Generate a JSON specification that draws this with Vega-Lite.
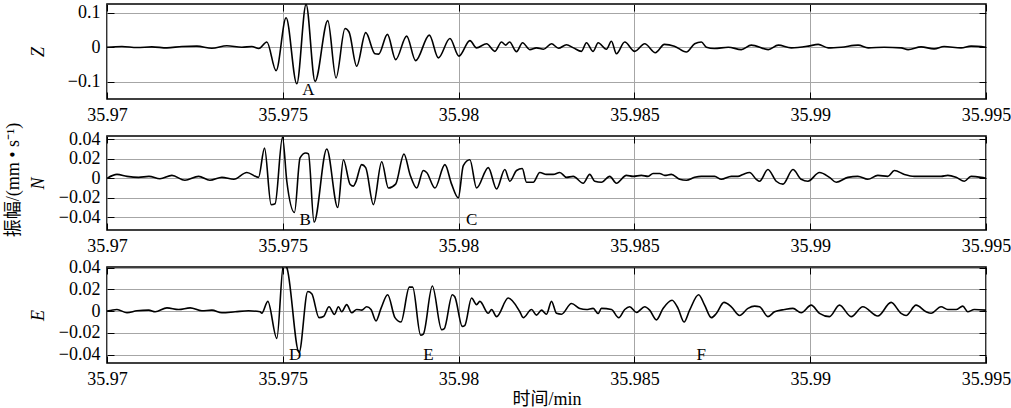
{
"$schema": "https://vega.github.io/schema/vega-lite/v6.json",
"padding": {"left": 3, "top": 2, "right": 2, "bottom": 0},
"config": {
 "view": {"stroke": "#000", "strokeWidth": 1.6},
 "font": "Liberation Serif, Times New Roman, serif",
 "axis": {"labelFont": "Liberation Serif, Times New Roman, serif", "labelFontSize": 18, "labelColor": "#000", "titleFont": "Liberation Serif, Noto Sans CJK SC, serif", "titleFontSize": 18, "titleFontWeight": "normal", "titleColor": "#000", "gridColor": "#a6a6a6", "gridWidth": 1, "gridOpacity": 1, "domain": false, "tickColor": "#000", "tickSize": -7, "tickWidth": 1, "labelFlush": false}
},
"datasets": {
"Z": [
{"t":35.97,"v":0},{"t":35.970426,"v":0.002},{"t":35.970852,"v":-0.001},{"t":35.971278,"v":0.001},{"t":35.971705,"v":-0.002},{"t":35.972131,"v":0.002},{"t":35.972557,"v":0.003},{"t":35.972983,"v":-0.003},{"t":35.973409,"v":0.004},{"t":35.973835,"v":0.0},{"t":35.974119,"v":0.002},{"t":35.974318,"v":-0.004},{"t":35.974546,"v":0.015},{"t":35.97481,"v":-0.068},{"t":35.975094,"v":0.085},{"t":35.975398,"v":-0.106},{"t":35.975662,"v":0.124},{"t":35.975918,"v":-0.099},{"t":35.976279,"v":0.077},{"t":35.976514,"v":-0.089},{"t":35.97677,"v":0.054},{"t":35.976884,"v":0.044},{"t":35.977102,"v":-0.055},{"t":35.977358,"v":0.042},{"t":35.977622,"v":-0.019},{"t":35.977727,"v":-0.02},{"t":35.977975,"v":0.037},{"t":35.97821,"v":-0.036},{"t":35.978523,"v":0.032},{"t":35.978778,"v":-0.039},{"t":35.979168,"v":0.035},{"t":35.979424,"v":-0.031},{"t":35.979753,"v":0.025},{"t":35.980009,"v":-0.026},{"t":35.980321,"v":0.019},{"t":35.980511,"v":-0.002},{"t":35.980795,"v":0.01},{"t":35.981032,"v":-0.012},{"t":35.981222,"v":0.015},{"t":35.981336,"v":0.006},{"t":35.981449,"v":0.015},{"t":35.981648,"v":-0.013},{"t":35.981819,"v":0.013},{"t":35.982026,"v":-0.007},{"t":35.982216,"v":-0.002},{"t":35.982415,"v":-0.006},{"t":35.982642,"v":0.01},{"t":35.982841,"v":-0.003},{"t":35.983068,"v":0.007},{"t":35.983267,"v":-0.002},{"t":35.983494,"v":-0.012},{"t":35.983636,"v":0.013},{"t":35.983827,"v":-0.012},{"t":35.983969,"v":0.013},{"t":35.984205,"v":-0.006},{"t":35.984347,"v":0.017},{"t":35.984489,"v":-0.019},{"t":35.984725,"v":0.015},{"t":35.985009,"v":-0.012},{"t":35.985293,"v":0.01},{"t":35.985597,"v":-0.016},{"t":35.985853,"v":0.008},{"t":35.986137,"v":0.003},{"t":35.986478,"v":-0.014},{"t":35.986714,"v":0.01},{"t":35.986904,"v":0.015},{"t":35.987046,"v":0.0},{"t":35.987273,"v":-0.004},{"t":35.987671,"v":0.0},{"t":35.98804,"v":-0.007},{"t":35.988324,"v":0.006},{"t":35.988807,"v":-0.007},{"t":35.989092,"v":0.006},{"t":35.989461,"v":-0.002},{"t":35.989944,"v":0.003},{"t":35.990228,"v":0.008},{"t":35.990512,"v":-0.002},{"t":35.990881,"v":0.0},{"t":35.991364,"v":0.006},{"t":35.991648,"v":-0.002},{"t":35.992103,"v":0.0},{"t":35.992586,"v":-0.002},{"t":35.992785,"v":-0.007},{"t":35.993154,"v":0.001},{"t":35.993523,"v":-0.005},{"t":35.993808,"v":0.002},{"t":35.99429,"v":-0.002},{"t":35.994575,"v":0.003},{"t":35.995,"v":0.0}
],
"N": [
{"t":35.97,"v":0},{"t":35.970284,"v":0.004},{"t":35.970568,"v":0.002},{"t":35.970901,"v":0.001},{"t":35.971193,"v":0.002},{"t":35.971506,"v":-0.0005},{"t":35.971847,"v":0.003},{"t":35.972216,"v":-0.002},{"t":35.972605,"v":0.002},{"t":35.972926,"v":-0.002},{"t":35.973267,"v":0.001},{"t":35.973608,"v":-0.001},{"t":35.973977,"v":0.006},{"t":35.97431,"v":0.001},{"t":35.97448,"v":0.031},{"t":35.974668,"v":-0.027},{"t":35.974781,"v":-0.026},{"t":35.974991,"v":0.042},{"t":35.975114,"v":-0.003},{"t":35.975332,"v":-0.035},{"t":35.975491,"v":0.021},{"t":35.975653,"v":0.026},{"t":35.97573,"v":0.025},{"t":35.975889,"v":-0.045},{"t":35.97625,"v":0.03},{"t":35.976563,"v":-0.03},{"t":35.976724,"v":0.019},{"t":35.976912,"v":-0.006},{"t":35.977009,"v":-0.008},{"t":35.977074,"v":-0.004},{"t":35.977244,"v":0.014},{"t":35.977358,"v":0.011},{"t":35.977577,"v":-0.027},{"t":35.977813,"v":0.017},{"t":35.978003,"v":-0.01},{"t":35.97821,"v":-0.006},{"t":35.978446,"v":0.025},{"t":35.978617,"v":0.004},{"t":35.978807,"v":-0.01},{"t":35.978997,"v":0.008},{"t":35.979091,"v":0.006},{"t":35.979327,"v":-0.01},{"t":35.979611,"v":0.014},{"t":35.979801,"v":-0.006},{"t":35.979991,"v":-0.02},{"t":35.980134,"v":0.013},{"t":35.980321,"v":0.019},{"t":35.980511,"v":-0.01},{"t":35.980844,"v":0.011},{"t":35.98108,"v":-0.011},{"t":35.981315,"v":0.009},{"t":35.981457,"v":-0.003},{"t":35.981648,"v":0.008},{"t":35.98181,"v":0.01},{"t":35.981932,"v":-0.004},{"t":35.982122,"v":-0.004},{"t":35.98231,"v":0.006},{"t":35.9825,"v":0.004},{"t":35.98269,"v":0.004},{"t":35.982878,"v":0.006},{"t":35.983068,"v":0.001},{"t":35.983259,"v":0.002},{"t":35.983543,"v":-0.005},{"t":35.98373,"v":0.004},{"t":35.983872,"v":-0.003},{"t":35.984063,"v":-0.004},{"t":35.984298,"v":0.002},{"t":35.984489,"v":-0.005},{"t":35.984773,"v":0.003},{"t":35.984963,"v":0.002},{"t":35.985199,"v":0.003},{"t":35.985389,"v":0.002},{"t":35.985531,"v":0.005},{"t":35.985719,"v":0.005},{"t":35.985861,"v":0.003},{"t":35.986051,"v":0.004},{"t":35.986287,"v":-0.001},{"t":35.986477,"v":-0.002},{"t":35.986713,"v":0.001},{"t":35.986903,"v":0.002},{"t":35.987094,"v":0.002},{"t":35.987281,"v":0.002},{"t":35.987472,"v":-0.001},{"t":35.987756,"v":0.002},{"t":35.987946,"v":0.002},{"t":35.988088,"v":0.004},{"t":35.988276,"v":0.006},{"t":35.988466,"v":-0.001},{"t":35.98856,"v":-0.003},{"t":35.988798,"v":0.009},{"t":35.989034,"v":-0.003},{"t":35.989224,"v":-0.006},{"t":35.989509,"v":0.009},{"t":35.989744,"v":-0.001},{"t":35.989935,"v":-0.003},{"t":35.990264,"v":0.006},{"t":35.990548,"v":0.001},{"t":35.990739,"v":-0.004},{"t":35.991071,"v":0.001},{"t":35.991355,"v":0.002},{"t":35.991639,"v":-0.001},{"t":35.991923,"v":0.003},{"t":35.992207,"v":0.002},{"t":35.992395,"v":0.008},{"t":35.992679,"v":0.004},{"t":35.992963,"v":0.002},{"t":35.993344,"v":0.002},{"t":35.993722,"v":0.002},{"t":35.993913,"v":0.003},{"t":35.994148,"v":0.001},{"t":35.994384,"v":-0.003},{"t":35.994574,"v":0.002},{"t":35.994858,"v":0.001},{"t":35.995,"v":0.0}
],
"E": [
{"t":35.97,"v":0},{"t":35.970284,"v":0.0015},{"t":35.970568,"v":-0.0015},{"t":35.970852,"v":0.0003},{"t":35.971185,"v":0.0009},{"t":35.971372,"v":-0.0006},{"t":35.971705,"v":0.003},{"t":35.972037,"v":0.0015},{"t":35.972366,"v":0.003},{"t":35.972699,"v":0.0003},{"t":35.972983,"v":0.0009},{"t":35.973267,"v":-0.0015},{"t":35.973645,"v":-0.0006},{"t":35.974026,"v":0.0003},{"t":35.974355,"v":-0.0006},{"t":35.974403,"v":-0.002},{"t":35.974574,"v":0.009},{"t":35.97483,"v":-0.025},{"t":35.97502,"v":0.043},{"t":35.975114,"v":0.04},{"t":35.975463,"v":-0.038},{"t":35.97571,"v":0.018},{"t":35.975824,"v":0.016},{"t":35.976031,"v":-0.006},{"t":35.976156,"v":-0.005},{"t":35.976315,"v":0.004},{"t":35.976469,"v":-0.003},{"t":35.976582,"v":0.004},{"t":35.976676,"v":-0.0006},{"t":35.976818,"v":0.006},{"t":35.97696,"v":-0.0015},{"t":35.977102,"v":0.0015},{"t":35.977244,"v":0.0009},{"t":35.977386,"v":0.004},{"t":35.977509,"v":0.0015},{"t":35.977651,"v":-0.009},{"t":35.977793,"v":0.0025},{"t":35.977983,"v":0.015},{"t":35.97819,"v":-0.006},{"t":35.978361,"v":-0.01},{"t":35.978599,"v":0.022},{"t":35.978693,"v":0.022},{"t":35.97892,"v":-0.022},{"t":35.978997,"v":-0.021},{"t":35.979253,"v":0.023},{"t":35.979517,"v":-0.017},{"t":35.979594,"v":-0.016},{"t":35.979821,"v":0.015},{"t":35.979895,"v":0.013},{"t":35.980105,"v":-0.014},{"t":35.980179,"v":-0.013},{"t":35.980369,"v":0.012},{"t":35.980511,"v":0.006},{"t":35.980605,"v":0.009},{"t":35.980844,"v":-0.002},{"t":35.980938,"v":0.0015},{"t":35.98108,"v":-0.005},{"t":35.981412,"v":0.012},{"t":35.981742,"v":-0.0006},{"t":35.981838,"v":-0.006},{"t":35.982074,"v":0.0015},{"t":35.982216,"v":-0.0037},{"t":35.982358,"v":0.0009},{"t":35.9825,"v":-0.0028},{"t":35.982642,"v":0.009},{"t":35.982784,"v":-0.002},{"t":35.982926,"v":-0.0028},{"t":35.98321,"v":0.007},{"t":35.983446,"v":0.0025},{"t":35.983636,"v":0.0015},{"t":35.983827,"v":0.0025},{"t":35.983969,"v":-0.0022},{"t":35.984063,"v":0.0025},{"t":35.984347,"v":0.0015},{"t":35.984554,"v":-0.006},{"t":35.984725,"v":0.0015},{"t":35.984866,"v":0.004},{"t":35.985057,"v":-0.0012},{"t":35.985293,"v":0.004},{"t":35.985435,"v":0.0009},{"t":35.985625,"v":-0.008},{"t":35.985815,"v":0.0025},{"t":35.986071,"v":0.01},{"t":35.986241,"v":0.0025},{"t":35.986412,"v":-0.01},{"t":35.986571,"v":0.0009},{"t":35.986827,"v":0.015},{"t":35.986997,"v":0.0055},{"t":35.987188,"v":-0.006},{"t":35.98733,"v":-0.0022},{"t":35.987548,"v":0.008},{"t":35.987756,"v":0.004},{"t":35.987991,"v":-0.004},{"t":35.98823,"v":0.0025},{"t":35.988418,"v":0.0046},{"t":35.98856,"v":0.004},{"t":35.988798,"v":-0.005},{"t":35.988986,"v":-0.0006},{"t":35.98927,"v":0.0015},{"t":35.989509,"v":0.0025},{"t":35.989744,"v":-0.0015},{"t":35.990028,"v":0.0055},{"t":35.990264,"v":-0.002},{"t":35.990548,"v":-0.005},{"t":35.990832,"v":0.0055},{"t":35.991165,"v":-0.005},{"t":35.991497,"v":0.004},{"t":35.991923,"v":-0.0045},{"t":35.992301,"v":0.008},{"t":35.992585,"v":-0.002},{"t":35.992727,"v":-0.004},{"t":35.993011,"v":0.0055},{"t":35.993295,"v":-0.0006},{"t":35.993438,"v":-0.002},{"t":35.993722,"v":0.004},{"t":35.993913,"v":0.0015},{"t":35.994148,"v":0.0015},{"t":35.994338,"v":0.0046},{"t":35.99448,"v":-0.0006},{"t":35.994668,"v":0.0015},{"t":35.995,"v":0.0009}
]
},
"vconcat": [
{
 "width": 879, "height": 95,
 "data": {"name": "Z"},
 "layer": [
  {"mark": {"type": "line", "color": "#000", "strokeWidth": 1.6, "clip": true, "interpolate": "monotone"},
   "encoding": {
    "x": {"field": "t", "type": "quantitative", "scale": {"domain": [35.97, 35.995], "nice": false, "zero": false},
          "axis": {"orient": "bottom", "values": [35.97, 35.975, 35.98, 35.985, 35.99, 35.995], "format": "~g", "grid": true, "title": null, "labelPadding": 14}},
    "y": {"field": "v", "type": "quantitative", "scale": {"domain": [-0.15, 0.125], "nice": false, "zero": false},
          "axis": {"orient": "left", "values": [-0.1, 0, 0.1], "format": "~g", "grid": true, "title": "Z", "titleFontStyle": "italic", "titleX": -64, "titleBaseline": "alphabetic", "labelPadding": 14}}}},
  {"mark": {"type": "line", "opacity": 0},
   "encoding": {
    "x": {"field": "t", "type": "quantitative", "axis": {"orient": "top", "values": [35.97, 35.975, 35.98, 35.985, 35.99, 35.995], "labels": false, "grid": false, "title": null}},
    "y": {"field": "v", "type": "quantitative", "axis": {"orient": "right", "values": [-0.1, 0, 0.1], "labels": false, "grid": false, "title": null}}}},
  {"data": {"values": [{"t": 35.97573, "v": -0.1226, "label": "A"}]},
   "mark": {"type": "text", "fontSize": 17, "font": "Liberation Serif, Times New Roman, serif", "baseline": "middle", "align": "center", "color": "#000"},
   "encoding": {"x": {"field": "t", "type": "quantitative", "axis": null}, "y": {"field": "v", "type": "quantitative", "axis": null}, "text": {"field": "label"}}}
 ],
 "resolve": {"axis": {"x": "independent", "y": "independent"}}
},
{
 "width": 879, "height": 94,
 "data": {"name": "N"},
 "layer": [
  {"mark": {"type": "line", "color": "#000", "strokeWidth": 1.6, "clip": true, "interpolate": "monotone"},
   "encoding": {
    "x": {"field": "t", "type": "quantitative", "scale": {"domain": [35.97, 35.995], "nice": false, "zero": false},
          "axis": {"orient": "bottom", "values": [35.97, 35.975, 35.98, 35.985, 35.99, 35.995], "format": "~g", "grid": true, "title": null, "labelPadding": 14}},
    "y": {"field": "v", "type": "quantitative", "scale": {"domain": [-0.053, 0.0434], "nice": false, "zero": false},
          "axis": {"orient": "left", "values": [-0.04, -0.02, 0, 0.02, 0.04], "format": "~g", "grid": true, "title": "N", "titleFontStyle": "italic", "titleX": -64, "titleBaseline": "alphabetic", "labelPadding": 14}}}},
  {"mark": {"type": "line", "opacity": 0},
   "encoding": {
    "x": {"field": "t", "type": "quantitative", "axis": {"orient": "top", "values": [35.97, 35.975, 35.98, 35.985, 35.99, 35.995], "labels": false, "grid": false, "title": null}},
    "y": {"field": "v", "type": "quantitative", "axis": {"orient": "right", "values": [-0.04, -0.02, 0, 0.02, 0.04], "labels": false, "grid": false, "title": null}}}},
  {"mark": {"type": "rule", "opacity": 0},
   "encoding": {
    "y": {"datum": 0, "type": "quantitative", "axis": {"orient": "left", "labels": false, "ticks": false, "grid": false, "domain": false, "title": "振幅/(mm • s⁻¹)", "titleX": -89, "titleY": 43.5, "titleBaseline": "alphabetic", "titleFontStyle": "normal"}}}},
  {"data": {"values": [{"t": 35.975634, "v": -0.0431, "label": "B"}, {"t": 35.98037, "v": -0.0431, "label": "C"}]},
   "mark": {"type": "text", "fontSize": 17, "font": "Liberation Serif, Times New Roman, serif", "baseline": "middle", "align": "center", "color": "#000"},
   "encoding": {"x": {"field": "t", "type": "quantitative", "axis": null}, "y": {"field": "v", "type": "quantitative", "axis": null}, "text": {"field": "label"}}}
 ],
 "resolve": {"axis": {"x": "independent", "y": "independent"}}
},
{
 "width": 879, "height": 96,
 "data": {"name": "E"},
 "layer": [
  {"mark": {"type": "line", "color": "#000", "strokeWidth": 1.6, "clip": true, "interpolate": "monotone"},
   "encoding": {
    "x": {"field": "t", "type": "quantitative", "scale": {"domain": [35.97, 35.995], "nice": false, "zero": false},
          "axis": {"orient": "bottom", "values": [35.97, 35.975, 35.98, 35.985, 35.99, 35.995], "format": "~g", "grid": true, "title": "时间/min", "titlePadding": 2, "labelPadding": 14}},
    "y": {"field": "v", "type": "quantitative", "scale": {"domain": [-0.0476, 0.0405], "nice": false, "zero": false},
          "axis": {"orient": "left", "values": [-0.04, -0.02, 0, 0.02, 0.04], "format": "~g", "grid": true, "title": "E", "titleFontStyle": "italic", "titleX": -64, "titleBaseline": "alphabetic", "labelPadding": 14}}}},
  {"mark": {"type": "line", "opacity": 0},
   "encoding": {
    "x": {"field": "t", "type": "quantitative", "axis": {"orient": "top", "values": [35.97, 35.975, 35.98, 35.985, 35.99, 35.995], "labels": false, "grid": false, "title": null}},
    "y": {"field": "v", "type": "quantitative", "axis": {"orient": "right", "values": [-0.04, -0.02, 0, 0.02, 0.04], "labels": false, "grid": false, "title": null}}}},
  {"data": {"values": [{"t": 35.97535, "v": -0.0398, "label": "D"}, {"t": 35.979139, "v": -0.0398, "label": "E"}, {"t": 35.986903, "v": -0.0398, "label": "F"}]},
   "mark": {"type": "text", "fontSize": 17, "font": "Liberation Serif, Times New Roman, serif", "baseline": "middle", "align": "center", "color": "#000"},
   "encoding": {"x": {"field": "t", "type": "quantitative", "axis": null}, "y": {"field": "v", "type": "quantitative", "axis": null}, "text": {"field": "label"}}}
 ],
 "resolve": {"axis": {"x": "independent", "y": "independent"}}
}
],
"spacing": 37,
"bounds": "flush"
}
